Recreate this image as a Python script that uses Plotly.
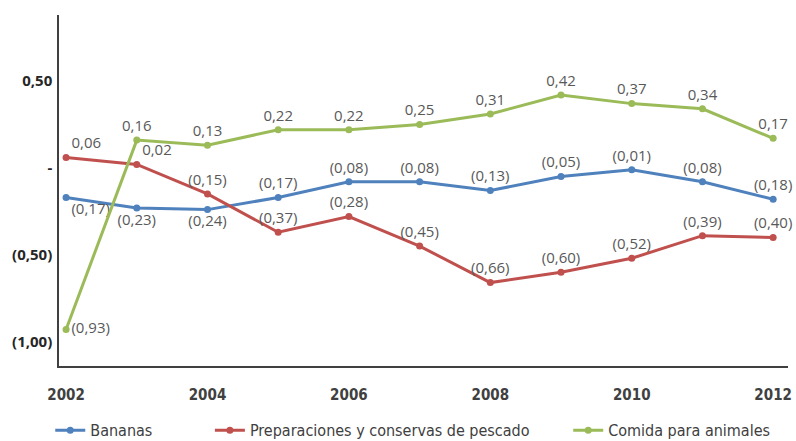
import plotly.graph_objects as go

years = [2002, 2003, 2004, 2005, 2006, 2007, 2008, 2009, 2010, 2011, 2012]
bananas = [-0.17, -0.23, -0.24, -0.17, -0.08, -0.08, -0.13, -0.05, -0.01, -0.08, -0.18]
pescado = [0.06, 0.02, -0.15, -0.37, -0.28, -0.45, -0.66, -0.60, -0.52, -0.39, -0.40]
comida = [-0.93, 0.16, 0.13, 0.22, 0.22, 0.25, 0.31, 0.42, 0.37, 0.34, 0.17]

series_names = ["Bananas", "Preparaciones y conservas de pescado", "Comida para animales"]
series_colors = ["#4F81BD", "#C0504D", "#9BBB59"]

y_tickvals = [0.5, 0, -0.5, -1.0]
y_ticktext = ["0,50", "-", "(0,50)", "(1,00)"]
x_tickvals = [2002, 2004, 2006, 2008, 2010, 2012]

NARROW = "DejaVu Sans Condensed, Lato, sans-serif"


def fmt(v):
    s = f"{abs(v):.2f}".replace(".", ",")
    return f"({s})" if v < 0 else s


pos_b = ["bottom right", "bottom center", "bottom center"] + ["top center"] * 8
pos_p = ["top right", "top right"] + ["top center"] * 9
pos_c = ["middle right"] + ["top center"] * 10

fig = go.Figure()
legends = ["legend", "legend2", "legend3"]
for vals, name, color, pos, lg in zip(
    [bananas, pescado, comida], series_names, series_colors, [pos_b, pos_p, pos_c], legends
):
    fig.add_trace(
        go.Scatter(
            x=years,
            y=vals,
            name=name,
            mode="lines+markers+text",
            line=dict(color=color, width=3),
            marker=dict(color=color, size=7),
            text=[fmt(v) for v in vals],
            textposition=pos,
            textfont=dict(family="Open Sans", size=15, color="#595959"),
            legend=lg,
            cliponaxis=False,
        )
    )

leg_common = dict(
    orientation="h",
    yanchor="middle",
    y=-0.183,
    xanchor="left",
    bgcolor="rgba(0,0,0,0)",
    font=dict(family=NARROW, size=16, color="#404040"),
)

fig.update_layout(
    width=796,
    height=441,
    margin=dict(l=59, r=8, t=15, b=75, autoexpand=False),
    paper_bgcolor="white",
    plot_bgcolor="white",
    showlegend=True,
    legend=dict(x=-0.012, **leg_common),
    legend2=dict(x=0.207, **leg_common),
    legend3=dict(x=0.6985, **leg_common),
    xaxis=dict(
        range=[2001.90, 2012.21],
        tickvals=x_tickvals,
        ticktext=[str(v) for v in x_tickvals],
        showgrid=False,
        zeroline=False,
        showline=True,
        linecolor="#404040",
        linewidth=1.5,
        ticks="",
        ticklabelstandoff=14,
        tickfont=dict(family=NARROW, size=15, color="#404040", weight="bold"),
    ),
    yaxis=dict(
        range=[-1.14, 0.88],
        tickvals=y_tickvals,
        ticktext=y_ticktext,
        showgrid=False,
        zeroline=False,
        showline=True,
        linecolor="#404040",
        linewidth=1.5,
        ticks="",
        ticklabelstandoff=2,
        tickfont=dict(family="Open Sans", size=15, color="#262626", weight="bold"),
    ),
)

fig.write_html(
    "out.html",
    config={"displayModeBar": False},
    post_script="document.body.style.margin='0';",
)
